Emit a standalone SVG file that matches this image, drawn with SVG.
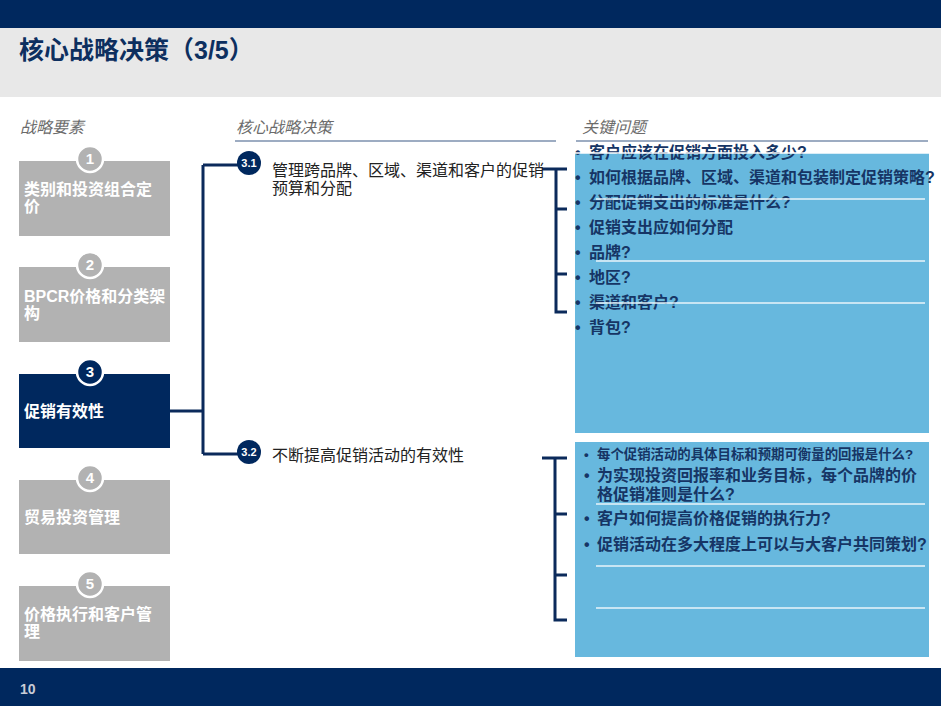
<svg xmlns="http://www.w3.org/2000/svg" width="941" height="706" viewBox="0 0 941 706">
<style>
.cn{font-family:"Liberation Sans","Noto Sans CJK SC",sans-serif}
.hdr{font-size:16px;font-style:italic;fill:#6b6b6b}
.boxt{font-size:16px;font-weight:bold;fill:#ffffff}
.num{font-size:15px;font-weight:bold;fill:#ffffff;text-anchor:middle}
.sub{font-size:11px;font-weight:bold;fill:#ffffff;text-anchor:middle}
.dec{font-size:16px;fill:#222222}
.q{font-size:16px;font-weight:bold;fill:#163565}
.q2{font-size:13.4px;font-weight:bold;fill:#163565}
.conn{fill:none;stroke:#0b2a5b;stroke-width:3}
.wl{stroke:#e8f4fa;stroke-width:1.5}
</style>
<!-- frame -->
<rect x="0" y="0" width="941" height="28" fill="#00285e"/>
<rect x="0" y="28" width="941" height="69" fill="#e8e8e8"/>
<text x="19" y="59" class="cn" font-size="25" font-weight="bold" fill="#0d2f5f">核心战略决策（3/5）</text>
<rect x="0" y="668" width="941" height="38" fill="#00285e"/>
<text x="20" y="694" class="cn" font-size="14" font-weight="bold" fill="#c8ccd6">10</text>

<!-- headers -->
<text x="20" y="133" class="cn hdr">战略要素</text>
<text x="236" y="133" class="cn hdr">核心战略决策</text>
<line x1="235" y1="141" x2="556" y2="141" stroke="#3d5b85" stroke-width="1.2"/>
<text x="582" y="133" class="cn hdr">关键问题</text>
<line x1="576" y1="141" x2="928" y2="141" stroke="#3d5b85" stroke-width="1.2"/>

<!-- connectors -->
<g id="connectors">
<path class="conn" d="M170 411 H203 M203 165 V454 M203 165 H240 M203 454 H240"/>
<path class="conn" d="M542 169 H567 M556 169 V312 H567 M556 209 H567 M556 274 H567"/>
<path class="conn" d="M542 458 H567 M555 458 V620 H567 M555 514 H567 M555 575 H567"/>
</g>

<!-- left nodes -->
<g id="n1">
<rect x="19" y="161" width="151" height="75" fill="#b2b2b2"/>
<circle cx="90" cy="159" r="13" fill="#b2b2b2" stroke="#ffffff" stroke-width="2.5"/>
<text x="90" y="164" class="cn num">1</text>
<text x="24" y="195" class="cn boxt">类别和投资组合定</text>
<text x="24" y="212" class="cn boxt">价</text>
</g>
<g id="n2">
<rect x="19" y="267" width="151" height="75" fill="#b2b2b2"/>
<circle cx="90" cy="265" r="13" fill="#b2b2b2" stroke="#ffffff" stroke-width="2.5"/>
<text x="90" y="270" class="cn num">2</text>
<text x="24" y="302" class="cn boxt">BPCR价格和分类架</text>
<text x="24" y="319" class="cn boxt">构</text>
</g>
<g id="n3">
<rect x="19" y="374" width="151" height="74" fill="#00285e"/>
<circle cx="90" cy="372" r="13" fill="#00285e" stroke="#ffffff" stroke-width="2.5"/>
<text x="90" y="377" class="cn num">3</text>
<text x="24" y="417" class="cn boxt">促销有效性</text>
</g>
<g id="n4">
<rect x="19" y="480" width="151" height="74" fill="#b2b2b2"/>
<circle cx="90" cy="478" r="13" fill="#b2b2b2" stroke="#ffffff" stroke-width="2.5"/>
<text x="90" y="483" class="cn num">4</text>
<text x="24" y="523" class="cn boxt">贸易投资管理</text>
</g>
<g id="n5">
<rect x="19" y="586" width="151" height="75" fill="#b2b2b2"/>
<circle cx="90" cy="584" r="13" fill="#b2b2b2" stroke="#ffffff" stroke-width="2.5"/>
<text x="90" y="589" class="cn num">5</text>
<text x="24" y="620" class="cn boxt">价格执行和客户管</text>
<text x="24" y="637" class="cn boxt">理</text>
</g>

<!-- decisions -->
<g id="d31">
<circle cx="249" cy="163" r="12" fill="#00285e"/>
<text x="249" y="167" class="cn sub">3.1</text>
<text x="272" y="176" class="cn dec">管理跨品牌、区域、渠道和客户的促销</text>
<text x="272" y="194" class="cn dec">预算和分配</text>
</g>
<g id="d32">
<circle cx="249" cy="452" r="12" fill="#00285e"/>
<text x="249" y="456" class="cn sub">3.2</text>
<text x="272" y="461" class="cn dec">不断提高促销活动的有效性</text>
</g>

<!-- questions 1 -->
<g id="q1">
<rect x="575" y="153" width="354" height="280" fill="#67b8de"/>
<g class="cn">
<text x="575" y="158" class="q">•</text><text x="589" y="158" class="q">客户应该在促销方面投入多少?</text>
<text x="575" y="183" class="q">•</text><text x="589" y="183" class="q">如何根据品牌、区域、渠道和包装制定促销策略?</text>
<text x="575" y="208" class="q">•</text><text x="589" y="208" class="q">分配促销支出的标准是什么?</text>
<text x="575" y="233" class="q">•</text><text x="589" y="233" class="q">促销支出应如何分配</text>
<text x="575" y="258" class="q">•</text><text x="589" y="258" class="q">品牌?</text>
<text x="575" y="283" class="q">•</text><text x="589" y="283" class="q">地区?</text>
<text x="575" y="308" class="q">•</text><text x="589" y="308" class="q">渠道和客户?</text>
<text x="575" y="333" class="q">•</text><text x="589" y="333" class="q">背包?</text>
</g>
<line x1="575" y1="153" x2="929" y2="153" stroke="#ffffff" stroke-width="1.5"/>
<line class="wl" x1="596" y1="199" x2="925" y2="199"/>
<line class="wl" x1="596" y1="261" x2="925" y2="261"/>
<line class="wl" x1="596" y1="303" x2="925" y2="303"/>
</g>

<!-- questions 2 -->
<g id="q2">
<rect x="575" y="442" width="354" height="215" fill="#67b8de"/>
<g class="cn">
<text x="584" y="459" class="q2">•</text><text x="597" y="459" class="q2">每个促销活动的具体目标和预期可衡量的回报是什么?</text>
<text x="584" y="481" class="q">•</text><text x="597" y="481" class="q">为实现投资回报率和业务目标，每个品牌的价</text>
<text x="597" y="500" class="q">格促销准则是什么?</text>
<text x="584" y="524" class="q">•</text><text x="597" y="524" class="q">客户如何提高价格促销的执行力?</text>
<text x="584" y="550" class="q">•</text><text x="597" y="550" class="q">促销活动在多大程度上可以与大客户共同策划?</text>
</g>
<line class="wl" x1="596" y1="504" x2="925" y2="504"/>
<line class="wl" x1="596" y1="566" x2="925" y2="566"/>
<line class="wl" x1="596" y1="608" x2="925" y2="608"/>
</g>
</svg>
